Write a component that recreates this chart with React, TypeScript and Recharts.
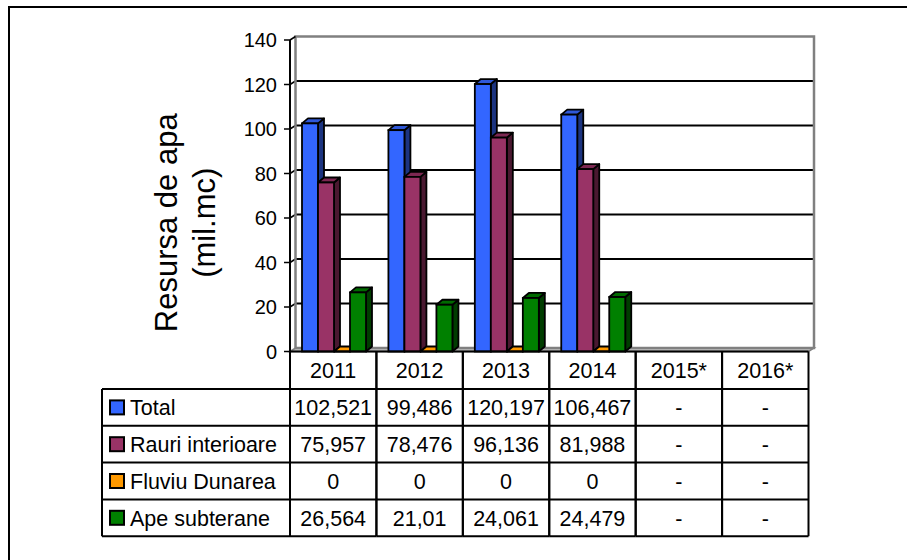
import React from "react";
import { BarChart, Bar, XAxis, YAxis, CartesianGrid } from "recharts";

const years = ["2011", "2012", "2013", "2014", "2015*", "2016*"];
const total = [102.521, 99.486, 120.197, 106.467, null, null];
const rauri = [75.957, 78.476, 96.136, 81.988, null, null];
const fluviu = [0, 0, 0, 0, null, null];
const subterane = [26.564, 21.01, 24.061, 24.479, null, null];
const seriesNames = ["Total", "Rauri interioare", "Fluviu Dunarea", "Ape subterane"];
const yTicks = [0, 20, 40, 60, 80, 100, 120, 140];

const seriesKeys = ["total", "rauri", "fluviu", "subterane"];
const seriesValues = [total, rauri, fluviu, subterane];
const colors = [
  { front: "#3366FF", top: "#2f58d8", side: "#1c3480" },
  { front: "#993366", top: "#7d2852", side: "#4a1830" },
  { front: "#FF9900", top: "#FF9900", side: "#a86400" },
  { front: "#008000", top: "#006a00", side: "#003d00" },
];

const data = years.map((year, i) => ({
  year,
  total: total[i],
  rauri: rauri[i],
  fluviu: fluviu[i],
  subterane: subterane[i],
}));

const W = 907;
const H = 560;
const PLOT_LEFT = 290;
const PLOT_RIGHT = 808.5;
const PLOT_TOP = 40;
const PLOT_BOTTOM = 351.5;
const BAND = (PLOT_RIGHT - PLOT_LEFT) / years.length;
const HEADER_H = 37.5;
const ROW_H = 36.8;
const TABLE_LEFT = 102;
const WALL_DX = 5.5;
const WALL_DY = -3.5;
const DEPTH_DX = 6;
const DEPTH_DY = -5;
const FONT = "'Liberation Sans', Arial, sans-serif";
const TABLE_FS = 21.5;

const fmt = (v: number | null) => (v === null ? "-" : String(v).replace(".", ","));

// 3D-looking bar: front, top and right side faces
const Bar3D = (props: any) => {
  const { x, y, width, height, index, seriesIndex } = props;
  if (x == null || y == null || !isFinite(y)) return null;
  const c = colors[seriesIndex];
  const h = Math.max(0, height || 0);
  const w = width;
  const side = `${x + w},${y} ${x + w + DEPTH_DX},${y + DEPTH_DY} ${x + w + DEPTH_DX},${y + h + DEPTH_DY} ${x + w},${y + h}`;
  const top = `${x},${y} ${x + DEPTH_DX},${y + DEPTH_DY} ${x + w + DEPTH_DX},${y + DEPTH_DY} ${x + w},${y}`;
  return (
    <g key={index}>
      <polygon points={side} fill={c.side} stroke="#000" strokeWidth={1.8} strokeLinejoin="round" />
      <polygon points={top} fill={c.top} stroke="#000" strokeWidth={1.8} strokeLinejoin="round" />
      {h > 0 && <rect x={x} y={y} width={w} height={h} fill={c.front} stroke="#000" strokeWidth={1.8} />}
    </g>
  );
};

// gridlines drawn on the back wall (shifted for depth)
const GridLine = (props: any) => {
  const { x1, x2, y1 } = props;
  if (Math.abs(y1 - PLOT_TOP) < 1) {
    const l = x1 + WALL_DX;
    const r = x2 + WALL_DX;
    const t = PLOT_TOP + WALL_DY;
    const b = PLOT_BOTTOM + WALL_DY;
    return (
      <g key={props.key}>
        <rect x={l} y={t} width={r - l} height={b - t} fill="none" stroke="#808080" strokeWidth={2.5} />
        <line x1={x1} y1={y1} x2={l} y2={t} stroke="#000" strokeWidth={1.5} />
      </g>
    );
  }
  if (Math.abs(y1 - PLOT_BOTTOM) < 1) {
    const pts = `${x1},${y1} ${x1 + WALL_DX},${y1 + WALL_DY} ${x2 + WALL_DX},${y1 + WALL_DY} ${x2},${y1}`;
    return <polygon key={props.key} points={pts} fill="#c0c0c0" stroke="#808080" strokeWidth={1.5} />;
  }
  return (
    <g key={props.key}>
      <line x1={x1 + WALL_DX} y1={y1 + WALL_DY} x2={x2 + WALL_DX} y2={y1 + WALL_DY} stroke="#000" strokeWidth={2} />
      <line x1={x1} y1={y1} x2={x1 + WALL_DX} y2={y1 + WALL_DY} stroke="#000" strokeWidth={1.5} />
    </g>
  );
};

const YTick = (props: any) => {
  const { x, y, payload } = props;
  return (
    <text x={x} y={y} dy="0.36em" textAnchor="end" fontFamily={FONT} fontSize={20} fill="#000">
      {payload.value}
    </text>
  );
};

// data table column under each category
const TableColumn = (props: any) => {
  const { x, y, payload } = props;
  const i = payload.index ?? years.indexOf(payload.value);
  const left = x - BAND / 2;
  const right = x + BAND / 2;
  const top = y;
  const rowsTop = top + HEADER_H;
  const bottom = rowsTop + ROW_H * seriesNames.length;
  const txt = { fontFamily: FONT, fontSize: TABLE_FS, fill: "#000", textAnchor: "middle" as const };
  return (
    <g>
      <text x={x} y={top + HEADER_H / 2} dy="0.36em" {...txt}>{payload.value}</text>
      {seriesValues.map((vals, r) => (
        <text key={r} x={x} y={rowsTop + ROW_H * r + ROW_H / 2} dy="0.36em" {...txt}>
          {fmt(vals[i])}
        </text>
      ))}
      {seriesNames.map((_, r) => (
        <line key={r} x1={left} x2={right} y1={rowsTop + ROW_H * r} y2={rowsTop + ROW_H * r} stroke="#000" strokeWidth={2} />
      ))}
      <line x1={left} x2={right} y1={bottom} y2={bottom} stroke="#000" strokeWidth={2} />
      <line x1={left} x2={left} y1={top} y2={bottom} stroke="#000" strokeWidth={2} />
      <line x1={right} x2={right} y1={top} y2={bottom} stroke="#000" strokeWidth={2} />
      {i === 0 && (
        <g>
          {seriesNames.map((name, r) => {
            const cy = rowsTop + ROW_H * r + ROW_H / 2;
            return (
              <g key={name}>
                <line x1={TABLE_LEFT} x2={left} y1={rowsTop + ROW_H * r} y2={rowsTop + ROW_H * r} stroke="#000" strokeWidth={2} />
                <rect x={TABLE_LEFT + 8} y={cy - 7} width={14} height={14} fill={colors[r].front} stroke="#000" strokeWidth={2} />
                <text x={TABLE_LEFT + 28} y={cy} dy="0.36em" fontFamily={FONT} fontSize={TABLE_FS} fill="#000">
                  {name}
                </text>
              </g>
            );
          })}
          <line x1={TABLE_LEFT} x2={left} y1={bottom} y2={bottom} stroke="#000" strokeWidth={2} />
          <line x1={TABLE_LEFT} x2={TABLE_LEFT} y1={rowsTop} y2={bottom} stroke="#000" strokeWidth={2} />
        </g>
      )}
    </g>
  );
};

const YLabel = (props: any) => {
  const vb = props.viewBox || { x: 0, y: PLOT_TOP, height: PLOT_BOTTOM - PLOT_TOP };
  const cy = vb.y + vb.height / 2 + 27;
  const x1 = vb.x + 177;
  const x2 = vb.x + 215;
  return (
    <g>
      <text x={x1} y={cy} transform={`rotate(-90, ${x1}, ${cy})`} textAnchor="middle" fontFamily={FONT} fontSize={31} fill="#000">
        Resursa de apa
      </text>
      <text x={x2} y={cy} transform={`rotate(-90, ${x2}, ${cy})`} textAnchor="middle" fontFamily={FONT} fontSize={31} fill="#000">
        (mil.mc)
      </text>
    </g>
  );
};

export default function App() {
  return (
    <div style={{ position: "absolute", left: 0, top: 0, width: W, height: H, overflow: "hidden", background: "#fff" }}>
      <div
        style={{
          position: "absolute",
          left: 8,
          top: 6,
          width: W + 40,
          height: H + 40,
          border: "2px solid #000",
        }}
      />
      <div style={{ position: "absolute", left: 0, top: 0 }}>
        <BarChart
          width={W}
          height={H}
          data={data}
          margin={{ top: PLOT_TOP, right: W - PLOT_RIGHT, left: 0, bottom: 18 }}
          barCategoryGap={12}
          barGap={0}
        >
          <CartesianGrid vertical={false} horizontal={GridLine} />
          <XAxis
            dataKey="year"
            height={H - 18 - PLOT_BOTTOM}
            tickLine={false}
            tickSize={0}
            tickMargin={0}
            axisLine={{ stroke: "#000", strokeWidth: 2 }}
            tick={TableColumn}
            interval={0}
          />
          <YAxis
            width={PLOT_LEFT}
            domain={[0, 140]}
            ticks={yTicks}
            tickSize={6}
            tickMargin={7}
            tick={YTick}
            tickLine={{ stroke: "#000", strokeWidth: 1.5 }}
            axisLine={{ stroke: "#000", strokeWidth: 2 }}
            label={{ content: YLabel }}
          />
          {seriesKeys.map((k, s) => (
            <Bar
              key={k}
              dataKey={k}
              name={seriesNames[s]}
              isAnimationActive={false}
              shape={(p: any) => <Bar3D {...p} seriesIndex={s} />}
            />
          ))}
        </BarChart>
      </div>
    </div>
  );
}
